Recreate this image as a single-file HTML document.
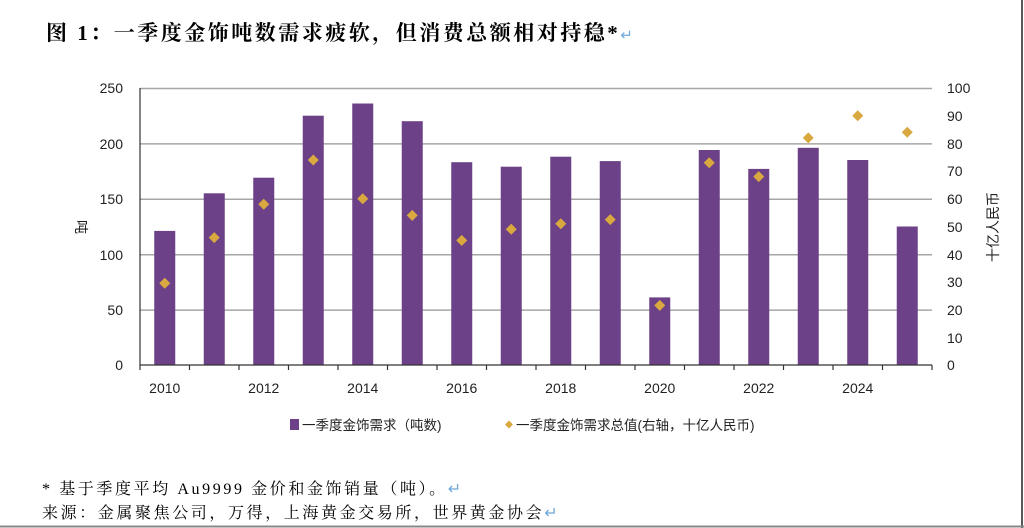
<!DOCTYPE html>
<html><head><meta charset="utf-8"><style>
html,body{margin:0;padding:0;background:#fff;}
body{width:1024px;height:528px;overflow:hidden;position:relative;}
svg{position:absolute;left:0;top:0;}
</style></head><body>
<svg width="1024" height="528" xmlns="http://www.w3.org/2000/svg">
<line x1="1022" y1="0" x2="1022" y2="528" stroke="#222" stroke-width="1.5"/>
<line x1="0" y1="526.5" x2="1024" y2="526.5" stroke="#888" stroke-width="2"/>
<text x="46" y="40" font-family="'Liberation Serif','Noto Serif CJK SC',serif" font-size="21" letter-spacing="2.5" font-weight="bold" fill="#000">图 1：一季度金饰吨数需求疲软，但消费总额相对持稳*<tspan fill="#6fa8dc" font-weight="normal" font-size="15">↵</tspan></text>
<g stroke="#a6a6a6" stroke-width="1.5">
<line x1="140" y1="88.5" x2="932" y2="88.5"/>
<line x1="140" y1="143.9" x2="932" y2="143.9"/>
<line x1="140" y1="199.3" x2="932" y2="199.3"/>
<line x1="140" y1="254.7" x2="932" y2="254.7"/>
<line x1="140" y1="310.1" x2="932" y2="310.1"/>
</g>
<g fill="#6c4187">
<rect x="154.25" y="230.9" width="21" height="134.1"/>
<rect x="203.75" y="193.3" width="21" height="171.7"/>
<rect x="253.25" y="177.7" width="21" height="187.3"/>
<rect x="302.75" y="115.7" width="21" height="249.3"/>
<rect x="352.25" y="103.5" width="21" height="261.5"/>
<rect x="401.75" y="121.2" width="21" height="243.8"/>
<rect x="451.25" y="162.2" width="21" height="202.8"/>
<rect x="500.75" y="166.7" width="21" height="198.3"/>
<rect x="550.25" y="156.7" width="21" height="208.3"/>
<rect x="599.75" y="161.1" width="21" height="203.9"/>
<rect x="649.25" y="297.4" width="21" height="67.6"/>
<rect x="698.75" y="150" width="21" height="215"/>
<rect x="748.25" y="168.9" width="21" height="196.1"/>
<rect x="797.75" y="147.8" width="21" height="217.2"/>
<rect x="847.25" y="160" width="21" height="205"/>
<rect x="896.75" y="226.5" width="21" height="138.5"/>
</g>
<g stroke="#333" stroke-width="1.2">
<line x1="140" y1="88" x2="140" y2="365"/>
<line x1="140" y1="365" x2="932" y2="365"/>
<line x1="140" y1="365" x2="140" y2="370"/><line x1="189.5" y1="365" x2="189.5" y2="370"/><line x1="239" y1="365" x2="239" y2="370"/><line x1="288.5" y1="365" x2="288.5" y2="370"/><line x1="338" y1="365" x2="338" y2="370"/><line x1="387.5" y1="365" x2="387.5" y2="370"/><line x1="437" y1="365" x2="437" y2="370"/><line x1="486.5" y1="365" x2="486.5" y2="370"/><line x1="536" y1="365" x2="536" y2="370"/><line x1="585.5" y1="365" x2="585.5" y2="370"/><line x1="635" y1="365" x2="635" y2="370"/><line x1="684.5" y1="365" x2="684.5" y2="370"/><line x1="734" y1="365" x2="734" y2="370"/><line x1="783.5" y1="365" x2="783.5" y2="370"/><line x1="833" y1="365" x2="833" y2="370"/><line x1="882.5" y1="365" x2="882.5" y2="370"/><line x1="932" y1="365" x2="932" y2="370"/>
</g>
<g fill="#d9a940">
<path d="M164.75 277.8l5.5 5.5-5.5 5.5-5.5-5.5z"/>
<path d="M214.25 232.1l5.5 5.5-5.5 5.5-5.5-5.5z"/>
<path d="M263.75 198.8l5.5 5.5-5.5 5.5-5.5-5.5z"/>
<path d="M313.25 154.5l5.5 5.5-5.5 5.5-5.5-5.5z"/>
<path d="M362.75 193.3l5.5 5.5-5.5 5.5-5.5-5.5z"/>
<path d="M412.25 209.9l5.5 5.5-5.5 5.5-5.5-5.5z"/>
<path d="M461.75 234.9l5.5 5.5-5.5 5.5-5.5-5.5z"/>
<path d="M511.25 223.8l5.5 5.5-5.5 5.5-5.5-5.5z"/>
<path d="M560.75 218.2l5.5 5.5-5.5 5.5-5.5-5.5z"/>
<path d="M610.25 214.1l5.5 5.5-5.5 5.5-5.5-5.5z"/>
<path d="M659.75 299.9l5.5 5.5-5.5 5.5-5.5-5.5z"/>
<path d="M709.25 157.3l5.5 5.5-5.5 5.5-5.5-5.5z"/>
<path d="M758.75 171.1l5.5 5.5-5.5 5.5-5.5-5.5z"/>
<path d="M808.25 132.4l5.5 5.5-5.5 5.5-5.5-5.5z"/>
<path d="M857.75 110.2l5.5 5.5-5.5 5.5-5.5-5.5z"/>
<path d="M907.25 126.8l5.5 5.5-5.5 5.5-5.5-5.5z"/>
</g>
<g font-family="'Liberation Sans','Noto Sans CJK SC',sans-serif" font-size="14" fill="#222">
<g text-anchor="end">
<text x="123" y="93">250</text><text x="123" y="149">200</text><text x="123" y="204">150</text><text x="123" y="260">100</text><text x="123" y="315">50</text><text x="123" y="370">0</text>
</g>
<g text-anchor="start">
<text x="947" y="93">100</text><text x="947" y="121">90</text><text x="947" y="149">80</text><text x="947" y="176">70</text><text x="947" y="204">60</text><text x="947" y="232">50</text><text x="947" y="260">40</text><text x="947" y="287">30</text><text x="947" y="315">20</text><text x="947" y="343">10</text><text x="947" y="370">0</text>
</g>
<g text-anchor="middle">
<text x="164.75" y="393">2010</text><text x="263.75" y="393">2012</text><text x="362.75" y="393">2014</text><text x="461.75" y="393">2016</text><text x="560.75" y="393">2018</text><text x="659.75" y="393">2020</text><text x="758.75" y="393">2022</text><text x="857.75" y="393">2024</text>
</g>
<text x="0" y="0" transform="translate(76,227) rotate(90)" text-anchor="middle" font-size="14">吨</text>
<text x="0" y="0" transform="translate(998,227) rotate(-90)" text-anchor="middle" font-size="14">十亿人民币</text>
<rect x="290" y="419" width="9" height="11" fill="#6c4187"/>
<text x="302" y="430" font-size="13.5">一季度金饰需求（吨数)</text>
<path d="M509 420.5l4 4-4 4-4-4z" fill="#d9a940"/>
<text x="516" y="430" font-size="13.5">一季度金饰需求总值(右轴，十亿人民币)</text>
</g>
<g font-family="'Liberation Serif','Noto Serif CJK SC',serif" font-size="16" letter-spacing="2.6" fill="#000">
<text x="42" y="494">* 基于季度平均 Au9999 金价和金饰销量（吨）。<tspan fill="#6fa8dc">↵</tspan></text>
<text x="42" y="518">来源：金属聚焦公司，万得，上海黄金交易所，世界黄金协会<tspan fill="#6fa8dc">↵</tspan></text>
</g>
</svg>
</body></html>
